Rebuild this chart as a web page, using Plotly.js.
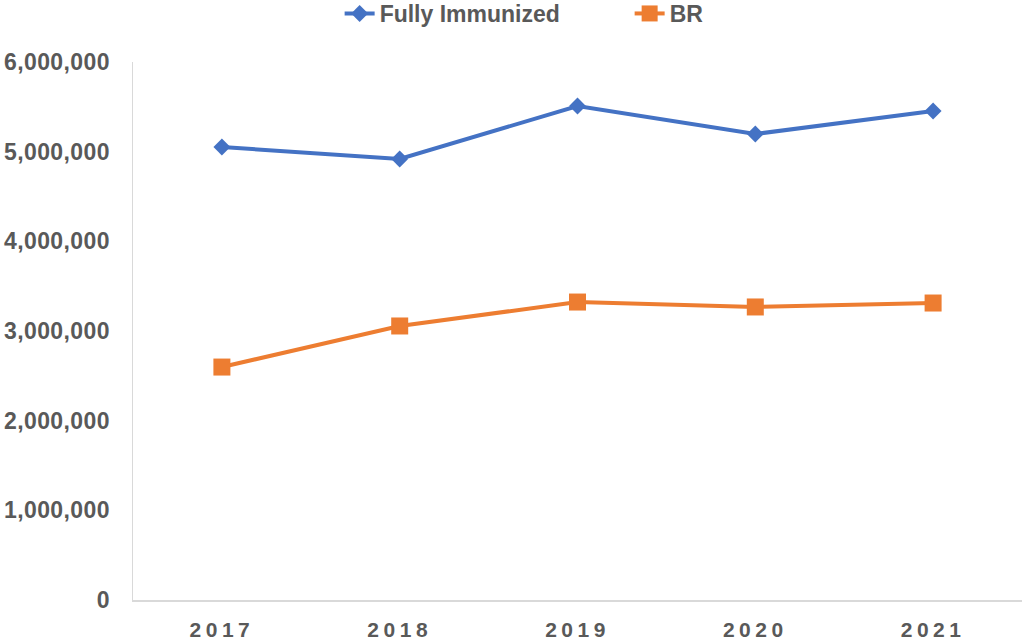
<!DOCTYPE html>
<html>
<head>
<meta charset="utf-8">
<script src="https://cdn.plot.ly/plotly-3.0.1.min.js"></script>
<style>
  html, body { margin: 0; padding: 0; background: #ffffff; }
  #chart { width: 1023px; height: 642px; }
  /* Excel-style spaced year labels */
  #chart .xtick text { letter-spacing: 4.5px; }
  #chart .ytick text { letter-spacing: 0.4px; }
</style>
</head>
<body>
<div id="chart"></div>
<script>
// Years and the two series
const years = ['2017', '2018', '2019', '2020', '2021'];
const fullyImmunized = [5052000, 4918000, 5509000, 5197000, 5453000];
const br = [2598000, 3056000, 3323000, 3268000, 3312000];

const fuente = 'Liberation Sans, Arial, sans-serif';
const grey = '#595959';

const trazaFI = {
  type: 'scatter',
  mode: 'lines+markers',
  x: years,
  y: fullyImmunized,
  name: 'Fully Immunized',
  line: { color: '#4472C4', width: 4 },
  marker: { color: '#4472C4', size: 13, symbol: 'diamond' },
};

const trazaBR = {
  type: 'scatter',
  mode: 'lines+markers',
  x: years,
  y: br,
  name: 'BR',
  line: { color: '#ED7D31', width: 4 },
  marker: { color: '#ED7D31', size: 17, symbol: 'square' },
};

const layout = {
  width: 1023,
  height: 642,
  margin: { l: 133, r: 1, t: 62, b: 42, autoexpand: false },
  paper_bgcolor: '#ffffff',
  plot_bgcolor: '#ffffff',
  showlegend: true,
  legend: {
    orientation: 'h',
    xref: 'container',
    x: 0.332,
    xanchor: 'left',
    yref: 'container',
    y: 1,
    yanchor: 'top',
    font: { family: fuente, size: 23, color: grey, weight: 'bold' },
    entrywidth: 245,
  },
  xaxis: {
    type: 'category',
    range: [-0.5, 4.5],
    showgrid: false,
    zeroline: false,
    showline: true,
    linecolor: '#d9d9d9',
    linewidth: 1.5,
    ticks: '',
    ticklabelstandoff: 10,
    tickfont: { family: fuente, size: 21, color: grey, weight: 'bold' },
  },
  yaxis: {
    range: [0, 6000000],
    dtick: 1000000,
    tickformat: ',d',
    showgrid: false,
    zeroline: false,
    showline: true,
    linecolor: '#d9d9d9',
    linewidth: 1.5,
    ticks: '',
    ticklabelstandoff: 17,
    tickfont: { family: fuente, size: 23, color: grey, weight: 'bold' },
  },
};

Plotly.newPlot('chart', [trazaFI, trazaBR], layout, { displayModeBar: false, staticPlot: true }).then(gd => {
  // nudge the legend up to where the reference places it
  const leg = gd.querySelector('g.legend');
  if (leg) {
    const t = leg.getAttribute('transform');
    const m = /translate\(([-\d.]+),\s*([-\d.]+)\)/.exec(t);
    if (m) leg.setAttribute('transform', `translate(${m[1]},${parseFloat(m[2]) - 8})`);
  }
});
</script>
</body>
</html>
